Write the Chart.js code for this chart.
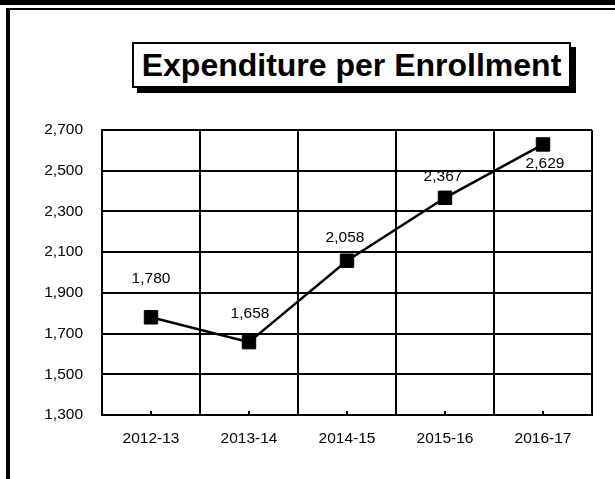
<!DOCTYPE html>
<html>
<head>
<meta charset="utf-8">
<script src="https://cdn.jsdelivr.net/npm/chart.js@4.4.0/dist/chart.umd.min.js"></script>
<style>
    html, body { margin: 0; padding: 0; background: #fff; }
    #wrap { position: relative; width: 615px; height: 479px; overflow: hidden; font-family: "Liberation Sans", Arial, sans-serif; }
    .topbar { position: absolute; left: 0; top: 0; width: 615px; height: 5px; background: #000; }
    .leftline { position: absolute; left: 6px; top: 8px; width: 4px; height: 471px; background: #000; }
    .topline { position: absolute; left: 6px; top: 8px; width: 609px; height: 2px; background: #000; }
    .title {
        position: absolute; left: 132px; top: 42px; width: 435px; height: 42px;
        border: 2px solid #000; background: #fff; box-shadow: 5px 5px 0 #000;
        font-weight: bold; font-size: 32px; line-height: 42px; text-align: center; color: #000;
    }
    #chartBox { position: absolute; left: 0; top: 0; width: 615px; height: 479px; }
</style>
</head>
<body>
<div id="wrap">
    <div class="topbar"></div>
    <div class="topline"></div>
    <div class="leftline"></div>
    <div class="title">Expenditure per Enrollment</div>
    <div id="chartBox"><canvas id="graphCanvas"></canvas></div>
</div>
<script>
var years = ['2012-13', '2013-14', '2014-15', '2015-16', '2016-17'];
var expenditure = [1780, 1658, 2058, 2367, 2629];
// where each value label sits relative to its point
var labelShiftX = [0, 1, -2, -2, 2];
var labelShiftY = [-39, -28, -23, -21, 19];
var yMin = 1300;
var yMax = 2700;
var yStep = 200;

var FONT = '"Liberation Sans", Arial, sans-serif';
var TEXT_SIZE = 15.5;

function fmt(v) {
    return v.toLocaleString('en-US');
}

// value labels next to the markers
var valueLabels = {
    id: 'valueLabels',
    afterDatasetsDraw: function(chart) {
        var ctx = chart.ctx;
        var meta = chart.getDatasetMeta(0);
        ctx.save();
        ctx.font = TEXT_SIZE + 'px ' + FONT;
        ctx.fillStyle = '#000';
        ctx.textAlign = 'center';
        ctx.textBaseline = 'middle';
        meta.data.forEach(function(pt, i) {
            ctx.fillText(fmt(expenditure[i]), pt.x + labelShiftX[i], pt.y + labelShiftY[i]);
        });
        ctx.restore();
    }
};

// small inner tick marks on the category axis
var innerTicks = {
    id: 'innerTicks',
    afterDraw: function(chart) {
        var ctx = chart.ctx;
        var xs = chart.scales.x;
        var bottom = chart.chartArea.bottom;
        ctx.save();
        ctx.strokeStyle = '#000';
        ctx.lineWidth = 2;
        for (var i = 0; i < years.length; i++) {
            var x = xs.getPixelForValue(i);
            ctx.beginPath();
            ctx.moveTo(x, bottom);
            ctx.lineTo(x, bottom - 4);
            ctx.stroke();
        }
        ctx.restore();
    }
};

var lineChart = new Chart(document.getElementById('graphCanvas'), {
    type: 'line',
    data: {
        labels: years,
        datasets: [{
            label: 'Expenditure per Enrollment',
            data: expenditure,
            borderColor: '#000',
            backgroundColor: '#000',
            borderWidth: 2.5,
            pointStyle: 'rect',
            pointRadius: 9.5,
            pointBorderWidth: 1,
            pointBorderColor: '#000',
            pointBackgroundColor: '#000',
            tension: 0
        }]
    },
    options: {
        responsive: true,
        maintainAspectRatio: false,
        animation: false,
        layout: {
            padding: { left: 0, top: 130, right: 23, bottom: 0 }
        },
        plugins: {
            legend: { display: false },
            title: { display: false },
            tooltip: { enabled: false }
        },
        scales: {
            x: {
                offset: true,
                grid: { offset: true, color: '#000', lineWidth: 2, drawTicks: false },
                border: { color: '#000', width: 2 },
                ticks: { color: '#000', padding: 14, font: { family: FONT, size: TEXT_SIZE }, maxRotation: 0 },
                afterFit: function(scale) { scale.height = 64; }
            },
            y: {
                min: yMin,
                max: yMax,
                grid: { color: '#000', lineWidth: 2, drawTicks: false },
                border: { color: '#000', width: 2 },
                ticks: {
                    stepSize: yStep,
                    color: '#000',
                    padding: 19,
                    font: { family: FONT, size: TEXT_SIZE },
                    callback: function(value) { return fmt(value); }
                },
                afterFit: function(scale) { scale.width = 102; }
            }
        }
    },
    plugins: [valueLabels, innerTicks]
});
</script>
</body>
</html>
